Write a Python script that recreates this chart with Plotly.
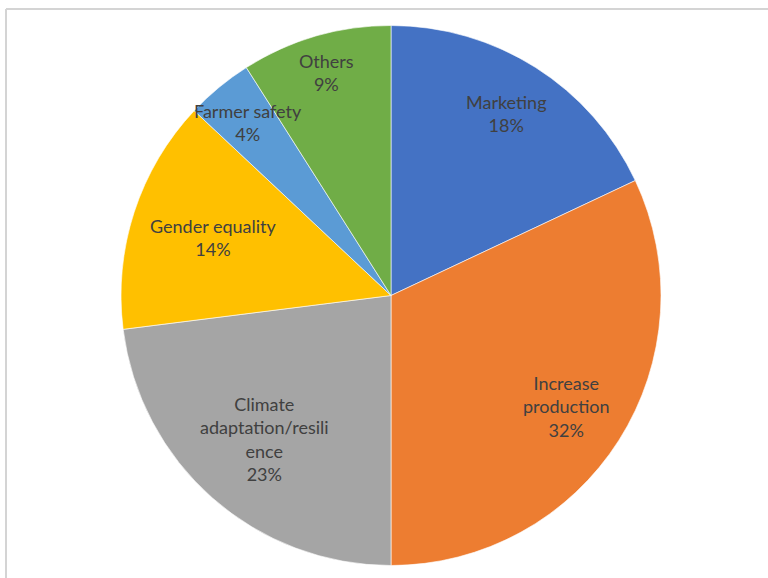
import math
import plotly.graph_objects as go

# ---- data ----
categories = ["Marketing", "Increase production", "Climate adaptation/resilience",
              "Gender equality", "Farmer safety", "Others"]
values = [18, 32, 23, 14, 4, 9]
label_texts = ["Marketing<br>18%", "Increase<br>production<br>32%",
               "Climate<br>adaptation/resili<br>ence<br>23%",
               "Gender equality<br>14%", "Farmer safety<br>4%", "Others<br>9%"]

# ---- style ----
colors = ["#4472C4", "#ED7D31", "#A5A5A5", "#FFC000", "#5B9BD5", "#70AD47"]
label_radius = [0.80, 0.77, 0.71, 0.69, 0.83, 0.86]

W, H = 768, 578
cx_px, cy_px, R = 391, 295.5, 270

dom_x = [(cx_px - R) / W, (cx_px + R) / W]
dom_y = [(H - cy_px - R) / H, (H - cy_px + R) / H]

fig = go.Figure(go.Pie(
    labels=categories, values=values, sort=False, direction="clockwise",
    rotation=0, textinfo="none", hoverinfo="label+percent",
    marker=dict(colors=colors, line=dict(color="rgba(255,255,255,0.6)", width=1)),
    domain=dict(x=dom_x, y=dom_y), showlegend=False,
))

# labels placed at mid-angle of each slice
total = sum(values)
cum = 0
annotations = []
for v, txt, f in zip(values, label_texts, label_radius):
    mid = (cum + v / 2) / total * 2 * math.pi
    cum += v
    px = cx_px + f * R * math.sin(mid)
    py = cy_px - f * R * math.cos(mid)
    annotations.append(dict(
        x=px / W, y=1 - py / H, xref="paper", yref="paper",
        text=txt, showarrow=False, xanchor="center", yanchor="middle",
        font=dict(family="Lato", size=18, color="#404040"), align="center",
    ))

shapes = [
    dict(type="line", xref="paper", yref="paper", x0=6 / W, x1=1, y0=1 - 9 / H, y1=1 - 9 / H,
         line=dict(color="#d4d4d4", width=2)),
    dict(type="line", xref="paper", yref="paper", x0=6 / W, x1=6 / W, y0=0, y1=1 - 9 / H,
         line=dict(color="#d4d4d4", width=2)),
]

fig.update_layout(
    width=W, height=H, margin=dict(l=0, r=0, t=0, b=0),
    paper_bgcolor="white", plot_bgcolor="white",
    annotations=annotations, shapes=shapes,
)

fig.write_html("out.html", config={"displayModeBar": False},
               post_script="document.body.style.margin='0';document.body.style.overflow='hidden';")
